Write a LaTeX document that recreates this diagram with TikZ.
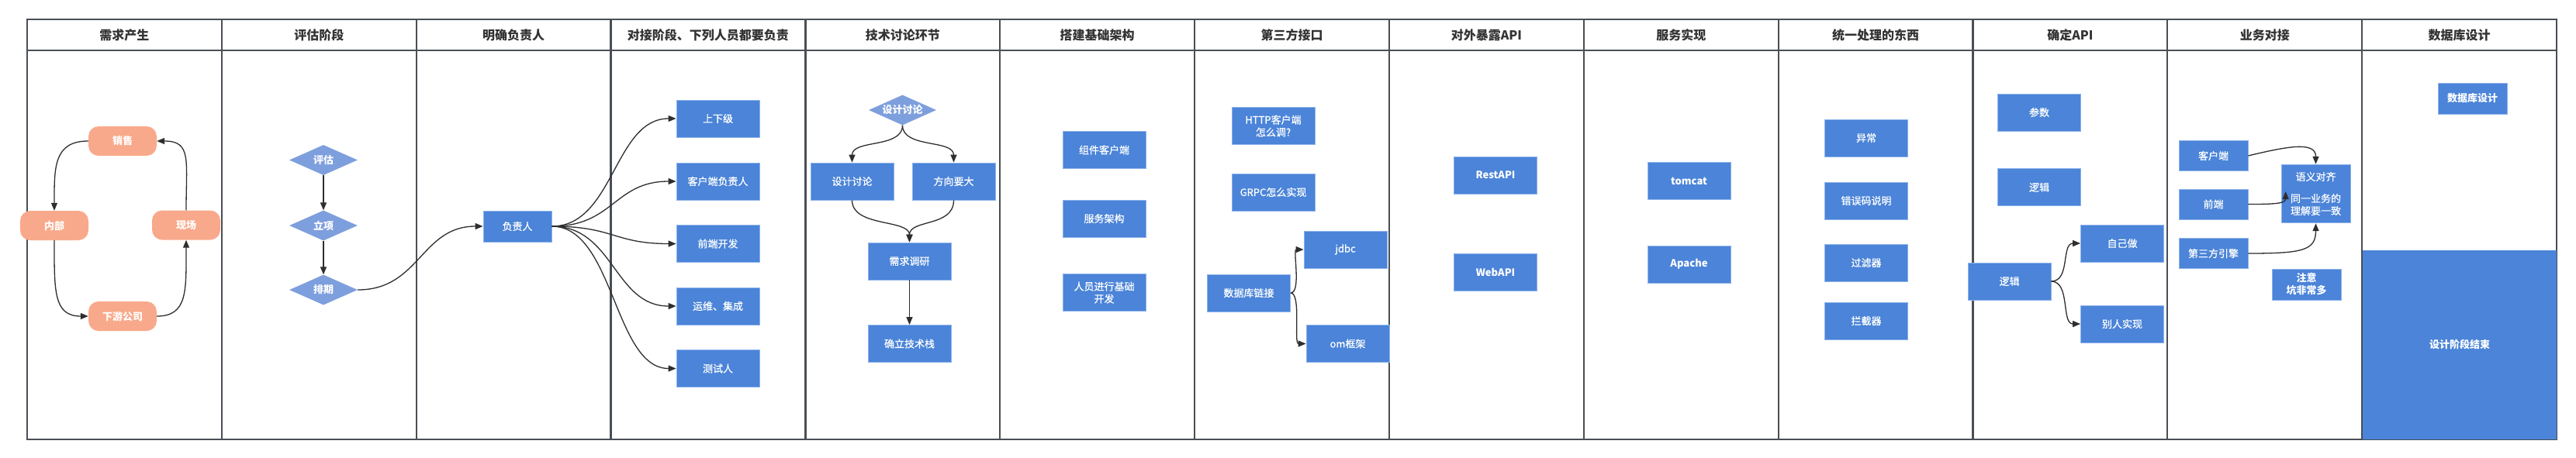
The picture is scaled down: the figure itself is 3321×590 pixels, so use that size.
\documentclass[tikz,border=0pt]{standalone}
\usepackage{fontspec}
\setmainfont{Noto Sans CJK SC}
\newfontfamily\boxfont{Noto Sans CJK SC}[FakeBold=0.6]
\usetikzlibrary{arrows.meta,shapes.geometric,calc}
\definecolor{boxblue}{HTML}{4B84D8}
\definecolor{boxedge}{HTML}{8DB3EC}
\definecolor{diablue}{HTML}{7E9FDD}
\definecolor{salmon}{HTML}{F9A98B}
\definecolor{framec}{HTML}{4A4F56}
\definecolor{linec}{HTML}{2E2E2E}
\definecolor{headc}{HTML}{333333}
\tikzset{
 bbox/.style={rectangle, fill=boxblue, draw=boxedge, line width=0.8pt, text=white, minimum width=107pt, minimum height=48pt, inner sep=0pt, align=center, font=\boxfont\fontsize{13}{16}\selectfont},
 sbox/.style={bbox, minimum width=89pt, minimum height=39pt},
 pill/.style={rectangle, rounded corners=13pt, fill=salmon, text=white, minimum width=88pt, minimum height=38pt, inner sep=0pt, font=\fontsize{13}{16}\selectfont\bfseries},
 dia/.style={diamond, fill=diablue, text=white, minimum width=88pt, minimum height=39pt, inner sep=0pt, aspect=2.25, font=\fontsize{13}{16}\selectfont\bfseries},
 conn/.style={draw=linec, line width=1.3pt, -{Triangle[length=10pt,width=8pt]}},
 lane/.style={draw=framec, line width=2.2pt},
 head/.style={text=headc, font=\fontsize{16}{18}\selectfont\bfseries, inner sep=0pt},
 bold/.style={font=\fontsize{13}{16}\selectfont\bfseries},
}
\begin{document}
\begin{tikzpicture}[x=1pt,y=-1pt]
\useasboundingbox (0,0) rectangle (3321,590);
\fill[white] (0,0) rectangle (3321,590);

% frame
\draw[lane] (35,25) rectangle (3296,567);
\draw[lane] (35,65) -- (3296,65);
\foreach \k in {1,...,12} \draw[lane] ({35+250.85*\k},25) -- ({35+250.85*\k},567);
\foreach \t [count=\i] in {需求产生,评估阶段,明确负责人,对接阶段、下列人员都要负责,技术讨论环节,搭建基础架构,第三方接口,对外暴露API,服务实现,统一处理的东西,确定API,业务对接,数据库设计}
  \node[head] (h\i) at ({35+250.85*(\i-0.5)},45) {\t};

% column 1
\node[pill] (xs) at (158,182) {销售};
\node[pill] (nb) at (70,291) {内部};
\node[pill] (xc) at (240,290.5) {现场};
\node[pill] (xy) at (158,408) {下游公司};
\draw[conn] (xs.west) .. controls +(-45,0) and +(0,-55) .. (nb.north);
\draw[conn] (nb.south) .. controls +(0,65) and +(-45,0) .. (xy.west);
\draw[conn] (xy.east) .. controls +(40,0) and +(0,65) .. (xc.south);
\draw[conn] (xc.north) .. controls +(0,-65) and +(45,0) .. (xs.east);

% column 2
\node[dia] (pg) at (417,206.5) {评估};
\node[dia] (lx) at (417,291) {立项};
\node[dia] (pq) at (417,374) {排期};
\draw[conn] (pg.south) -- (lx.north);
\draw[conn] (lx.south) -- (pq.north);

% column 3
\node[sbox, minimum width=88pt, minimum height=40pt] (fzr) at (667,292) {负责人};
\draw[conn] (pq.east) .. controls +(80,0) and +(-80,0) .. (fzr.west);

% column 4
\node[bbox] (sxj) at (925.5,153) {上下级};
\node[bbox] (khd) at (925.5,234) {客户端负责人};
\node[bbox] (qdkf) at (925.5,314.5) {前端开发};
\node[bbox] (ywjc) at (925.5,395) {运维、集成};
\node[bbox] (csr) at (925.5,475.5) {测试人};
\foreach \n in {sxj,khd,qdkf,ywjc,csr}
  \draw[conn] (fzr.east) .. controls +(80,0) and +(-80,0) .. (\n.west);

% column 5
\node[dia, minimum width=87pt] (dd) at (1163.5,142) {设计讨论};
\node[bbox] (sjtl) at (1098.5,234) {设计讨论};
\node[bbox] (fxyd) at (1229.5,234) {方向要大};
\node[bbox] (xqdy) at (1172.5,337) {需求调研};
\node[bbox] (qljsz) at (1172.5,443.5) {确立技术栈};
\draw[conn] (dd.south) .. controls +(0,30) and +(0,-30) .. (sjtl.north);
\draw[conn] (dd.south) .. controls +(0,30) and +(0,-30) .. (fxyd.north);
\draw[conn] (sjtl.south) .. controls +(0,35) and +(0,-30) .. (xqdy.north);
\draw[conn] (fxyd.south) .. controls +(0,35) and +(0,-30) .. (xqdy.north);
\draw[conn] (xqdy.south) -- (qljsz.north);

% column 6
\node[bbox] (zjkhd) at (1423.5,193.5) {组件客户端};
\node[bbox] (fwjg) at (1423.5,282) {服务架构};
\node[bbox] (ryjx) at (1423.5,377.6) {人员进行基础\\开发};

% column 7
\node[bbox] (http) at (1641.5,162.5) {HTTP客户端\\怎么调?};
\node[bbox] (grpc) at (1641.5,248) {GRPC怎么实现};
\node[bbox] (sjklj) at (1610,378) {数据库链接};
\node[bbox] (jdbc) at (1734.5,322) {jdbc};
\node[bbox] (orm) at (1737.5,443.5) {om框架};
\draw[conn] (sjklj.east) .. controls +(14,0) and +(-14,0) .. (jdbc.west);
\draw[conn] (sjklj.east) .. controls +(14,0) and +(-16,0) .. (orm.west);

% column 8
\node[bbox, bold] (rest) at (1928,226) {RestAPI};
\node[bbox, bold] (web) at (1928,351) {WebAPI};

% column 9
\node[bbox, bold] (tomcat) at (2177.5,233.5) {tomcat};
\node[bbox, bold] (apache) at (2177.5,341) {Apache};

% column 10
\node[bbox] (yc) at (2406,178) {异常};
\node[bbox] (cwm) at (2406,259) {错误码说明};
\node[bbox] (glq) at (2406,339) {过滤器};
\node[bbox] (ljq) at (2406,414) {拦截器};

% column 11
\node[bbox] (cs) at (2629,145) {参数};
\node[bbox] (lja) at (2629,241.7) {逻辑};
\node[bbox] (ljb) at (2590.5,363) {逻辑};
\node[bbox] (zjz) at (2736,314) {自己做};
\node[bbox] (brsx) at (2736,418) {别人实现};
\draw[conn] (ljb.east) .. controls +(25,0) and +(-25,0) .. (zjz.west);
\draw[conn] (ljb.east) .. controls +(25,0) and +(-25,0) .. (brsx.west);

% column 12
\node[sbox] (khdb) at (2853.5,201) {客户端};
\node[sbox] (qd) at (2853.5,263.5) {前端};
\node[sbox] (dsf) at (2853.5,327) {第三方引擎};
\node[sbox, minimum height=75.6pt] (yydq) at (2985.5,250) {语义对齐\\[12pt]同一业务的\\理解要一致};
\node[sbox, bold, minimum height=40pt] (zy) at (2973.5,367) {注意\\坑非常多};
\draw[conn] (khdb.east) .. controls +(50,-12) and +(0,-30) .. (yydq.north);
\draw[conn] (qd.east) .. controls +(32,0) and +(0,16) .. ($(yydq.west)+(6,-3)$);
\draw[conn] (dsf.east) .. controls +(70,0) and +(0,35) .. (yydq.south);

% column 13
\node[sbox, bold, minimum height=40pt] (sjksj) at (3187.5,127) {数据库设计};
\node[bbox, bold, draw=none, minimum width=249.8pt, minimum height=244.4pt] (endb) at (3171.1,444.8) {设计阶段结束};
\end{tikzpicture}
\end{document}
